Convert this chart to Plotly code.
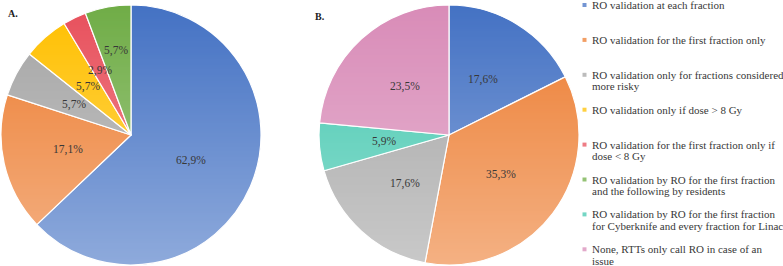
import math
import plotly.graph_objects as go

# ---------------- data ----------------
categories = [
    "RO validation at each fraction",
    "RO validation for the first fraction only",
    "RO validation only for fractions considered\nmore risky",
    "RO validation only if dose > 8 Gy",
    "RO validation for the first fraction only if\ndose < 8 Gy",
    "RO validation by RO for the first fraction\nand the following by residents",
    "RO validation by RO for the first fraction\nfor Cyberknife and every fraction for Linac",
    "None, RTTs only call RO in case of an\nissue",
]
panel_titles = ["A.", "B."]

cats_a = [0, 1, 2, 3, 4, 5]
share_a = [62.9, 17.1, 5.7, 5.7, 2.9, 5.7]

cats_b = [0, 1, 2, 6, 7]
share_b = [17.6, 35.3, 17.6, 5.9, 23.5]

# ---------------- style ----------------
cat_colors = ["#4472C4", "#ED7D31", "#A5A5A5", "#FFC000",
              "#E8505C", "#70AD47", "#45C8B0", "#D98CB8"]
FONT = "Liberation Serif"
TXT = "#383838"
W, H = 783, 266
pies = [dict(cx=131, cy=135, r=130, lab_r=[0.5, 0.5, 0.5, 0.5, 0.55, 0.66]),
        dict(cx=449, cy=135, r=130, lab_r=[0.5, 0.5, 0.5, 0.5, 0.5])]
GRAD_MAX = 0.4


def blend(hexc, a):
    r, g, b = (int(hexc[i:i + 2], 16) for i in (1, 3, 5))
    return "#%02X%02X%02X" % tuple(round(c + (255 - c) * a) for c in (r, g, b))


def clean(s):
    return s.replace("<", "&lt;").replace(">", "&gt;")


fig = go.Figure()
annotations = []
shapes = []

for p, cats, vals in zip(pies, [cats_a, cats_b], [share_a, share_b]):
    cx, cy, r = p["cx"], p["cy"], p["r"]
    fig.add_trace(go.Pie(
        labels=[categories[c].replace("\n", " ") for c in cats],
        values=vals,
        sort=False, direction="clockwise", rotation=0,
        marker=dict(colors=[cat_colors[c] for c in cats],
                    line=dict(color="white", width=1.2)),
        textinfo="none", hoverinfo="label+percent",
        showlegend=False,
        domain=dict(x=[(cx - r) / W, (cx + r) / W],
                    y=[1 - (cy + r) / H, 1 - (cy - r) / H]),
    ))
    # percentage labels placed on slice bisectors
    total = sum(vals)
    cum = 0.0
    for v, f in zip(vals, p["lab_r"]):
        mid = (cum + v / 2) / total * 2 * math.pi
        cum += v
        x = cx + f * r * math.sin(mid)
        y = cy - f * r * math.cos(mid)
        annotations.append(dict(
            x=x / W, y=1 - y / H, xref="paper", yref="paper",
            text=f"{v:.1f}%".replace(".", ","), showarrow=False,
            xanchor="center", yanchor="middle",
            font=dict(family=FONT, size=11.5, color=TXT)))
    # vertical light gradient overlay (white on white background is invisible)
    top = cy - r
    n = int(2 * r / 2)
    for k in range(n):
        y0 = top + 2 * k
        y1 = y0 + 2
        a = GRAD_MAX * ((y0 + 1) - top) / (2 * r)
        shapes.append(dict(type="rect", xref="paper", yref="paper",
                           x0=(cx - r - 1) / W, x1=(cx + r + 1) / W,
                           y0=1 - y1 / H, y1=1 - y0 / H,
                           fillcolor="white", opacity=a,
                           line=dict(width=0), layer="above"))

# panel titles
for title, (tx, ty) in zip(panel_titles, [(13, 14), (320, 16)]):
    annotations.append(dict(x=tx / W, y=1 - ty / H, xref="paper", yref="paper",
                            text=f"<b>{title}</b>", showarrow=False, xanchor="center",
                            yanchor="middle", font=dict(family=FONT, size=10, color="#222")))

# legend (custom, small square markers)
LEG_X_MARK = 584.5
LEG_X_TXT = 590.5
LEG_Y0 = 5.0
LEG_STEP = 34.9
LINE_H = 11.2
for i, cat in enumerate(categories):
    yc = LEG_Y0 + i * LEG_STEP
    shapes.append(dict(type="rect", xref="paper", yref="paper",
                       x0=(LEG_X_MARK - 2) / W, x1=(LEG_X_MARK + 2) / W,
                       y0=1 - (yc + 2) / H, y1=1 - (yc - 2) / H,
                       fillcolor=blend(cat_colors[i], 0.25), line=dict(width=0)))
    for j, line in enumerate(cat.split("\n")):
        annotations.append(dict(
            x=LEG_X_TXT / W, y=1 - (yc + j * LINE_H) / H,
            xref="paper", yref="paper", text=clean(line), showarrow=False,
            xanchor="left", yanchor="middle", borderpad=0,
            font=dict(family=FONT, size=11, color=TXT)))

fig.update_layout(
    width=W, height=H,
    margin=dict(l=0, r=0, t=0, b=0),
    paper_bgcolor="white", plot_bgcolor="white",
    annotations=annotations, shapes=shapes,
    separators=", ",
)

fig.write_html(
    "out.html",
    config={"displayModeBar": False},
    post_script="document.body.style.margin='0';document.body.style.padding='0';"
                "document.body.style.overflow='hidden';",
)
